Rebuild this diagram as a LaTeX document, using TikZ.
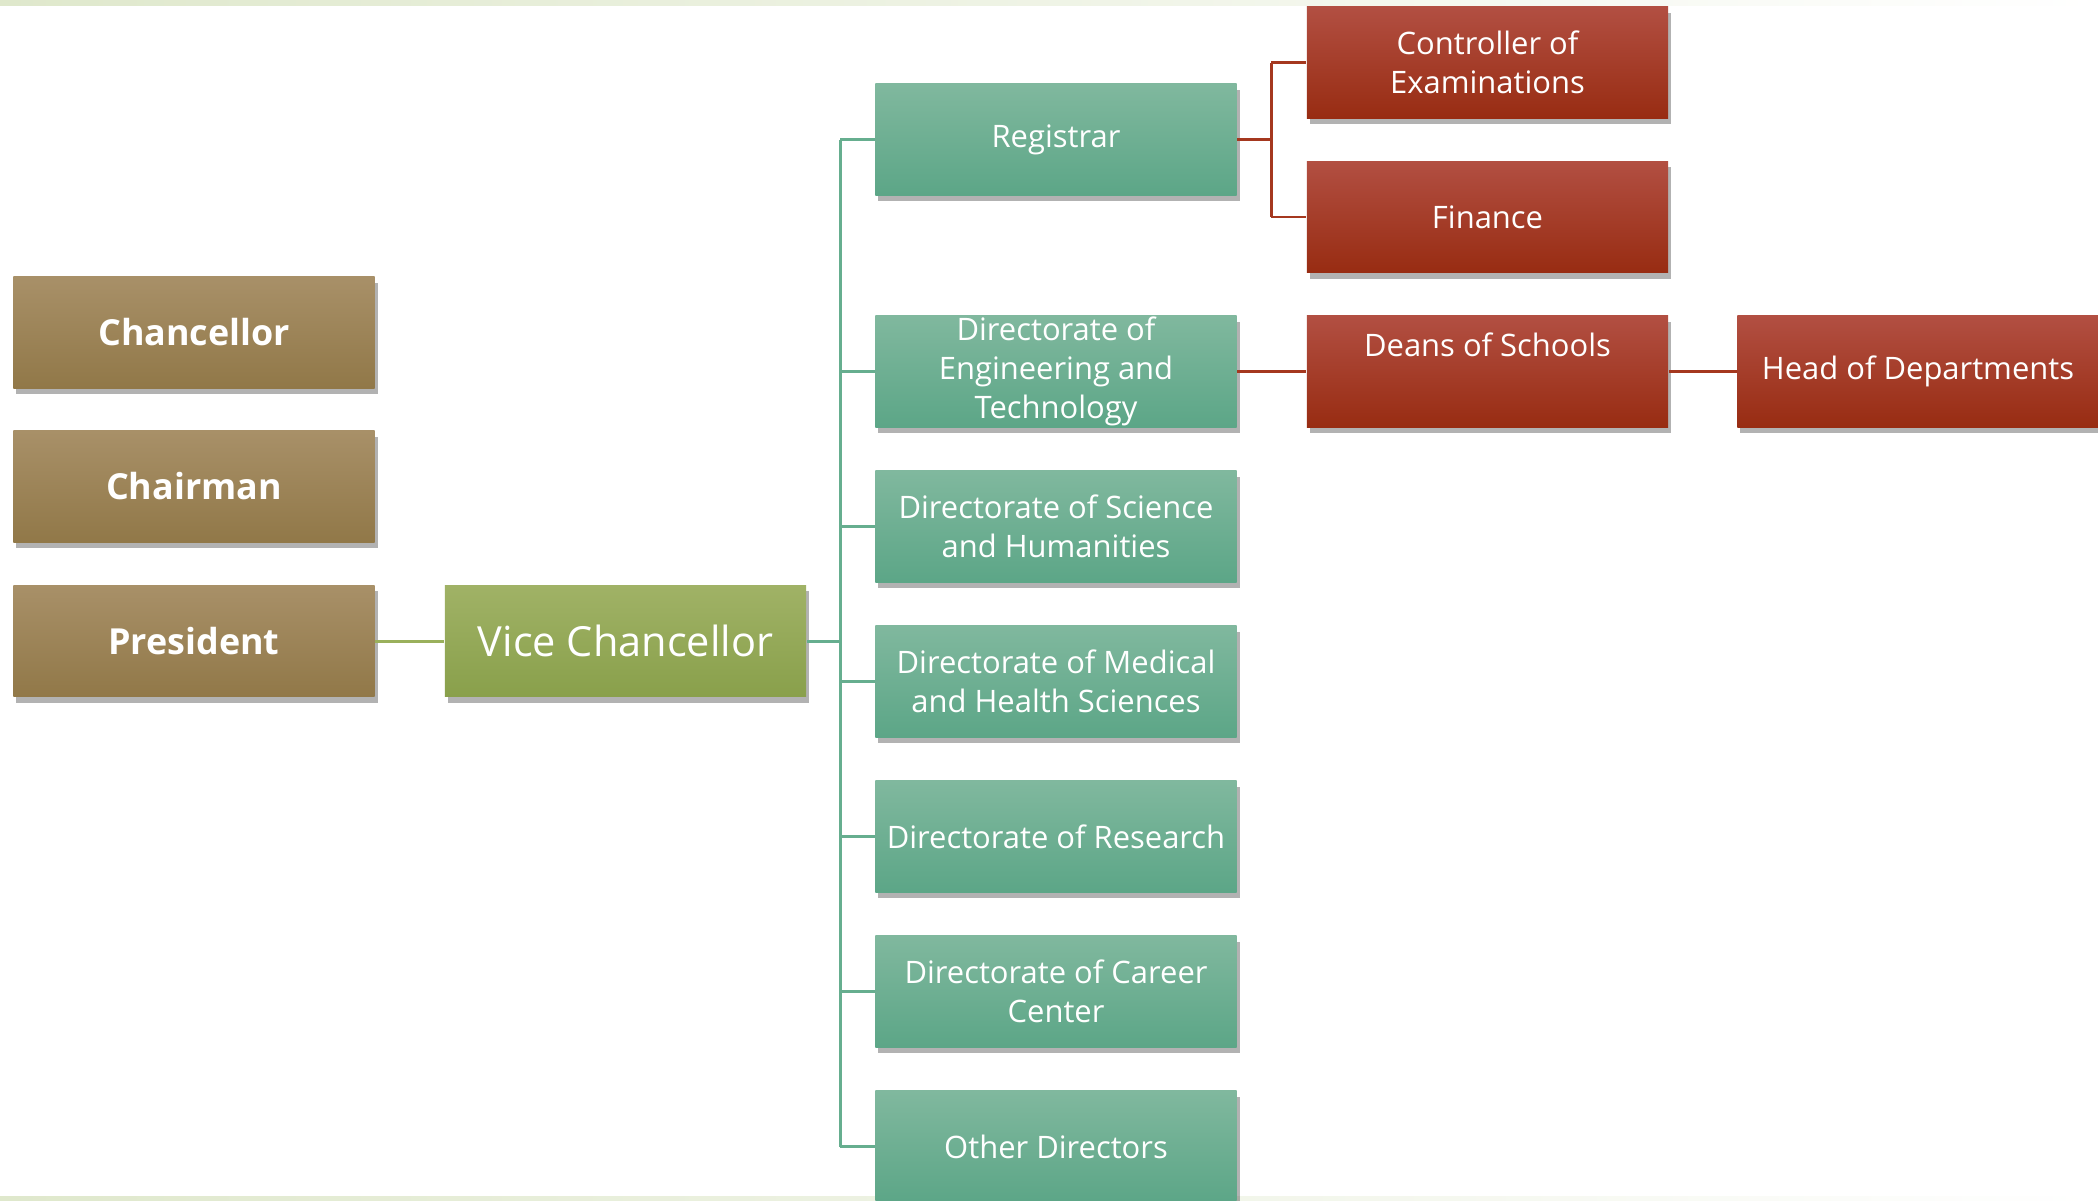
\documentclass[tikz,border=0pt]{standalone}
\usepackage{fontspec}
\setmainfont{Open Sans}
\usetikzlibrary{shadows}
\definecolor{browntop}{HTML}{A89068}
\definecolor{brownbot}{HTML}{917848}
\definecolor{olivetop}{HTML}{A0B266}
\definecolor{olivebot}{HTML}{89A04B}
\definecolor{tealtop}{HTML}{80B89E}
\definecolor{tealbot}{HTML}{5CA687}
\definecolor{redtop}{HTML}{B24F42}
\definecolor{redbot}{HTML}{982C12}
\definecolor{tealline}{HTML}{66AE8F}
\definecolor{oliveline}{HTML}{9AB05C}
\definecolor{redline}{HTML}{A5381F}
\definecolor{strip}{HTML}{DFE8CC}

\begin{document}
\begin{tikzpicture}[x=0.01cm,y=-0.01cm,
    orgbox/.style={minimum width=3.61cm, minimum height=1.11cm, inner sep=0pt,
      text=white, align=center, font=\fontsize{8.8}{11}\selectfont,
      drop shadow={shadow xshift=0.03cm, shadow yshift=-0.06cm, fill=black, opacity=0.3}},
    boss/.style={orgbox, top color=browntop, bottom color=brownbot,
      font=\fontsize{10.2}{12}\selectfont\bfseries},
    vicebox/.style={orgbox, top color=olivetop, bottom color=olivebot,
      font=\fontsize{11.8}{14}\selectfont},
    dirbox/.style={orgbox, top color=tealtop, bottom color=tealbot},
    officebox/.style={orgbox, top color=redtop, bottom color=redbot},
    link/.style={line width=0.85pt}]
    \useasboundingbox (0,0) rectangle (2098,1200);
    \shade[left color=strip, right color=white] (0,0) rectangle (2098,5);
    \shade[left color=strip, right color=white] (0,1196) rectangle (2098,1200);

    \node[boss] (chancellor) at (194,332.5) {Chancellor};
    \node[boss] (chairman) at (194,486.5) {Chairman};
    \node[boss] (president) at (194,641) {President};
    \node[vicebox] (vc) at (625.5,641) {Vice Chancellor};

    \node[dirbox] (registrar) at (1056,139.5) {Registrar};
    \foreach \name/\y/\txt in {eng/371.5/{Directorate of\\Engineering and\\Technology},
        science/526.5/{Directorate of Science\\and Humanities},
        medical/681.5/{Directorate of Medical\\and Health Sciences},
        research/836.5/{Directorate of Research},
        career/991.5/{Directorate of Career\\Center},
        other/1146.5/{Other Directors}}
      \node[dirbox] (\name) at (1056,\y) {\txt};

    \node[officebox] (controller) at (1487.5,62.5) {Controller of\\Examinations};
    \node[officebox] (finance) at (1487.5,217) {Finance};
    \node[officebox] (deans) at (1487.5,371.5) {Deans of Schools\\[4pt]\mbox{}};
    \node[officebox] (heads) at (1918,371.5) {Head of Departments};

    \coordinate (jt) at (840,641);
    \coordinate (jr) at (1271,139.5);
    \draw[link, oliveline] (president.east) -- (vc.west);
    \draw[link, tealline] (vc.east) -- (jt);
    \draw[link, tealline] (jt |- registrar) -- (jt |- other);
    \foreach \n in {registrar,eng,science,medical,research,career,other}
      \draw[link, tealline] (jt |- \n) -- (\n.west);
    \draw[link, redline] (registrar.east) -- (jr);
    \draw[link, redline] (jr |- controller) -- (jr |- finance);
    \draw[link, redline] (jr |- controller) -- (controller.west);
    \draw[link, redline] (jr |- finance) -- (finance.west);
    \draw[link, redline] (eng.east) -- (deans.west);
    \draw[link, redline] (deans.east) -- (heads.west);
\end{tikzpicture}
\end{document}
